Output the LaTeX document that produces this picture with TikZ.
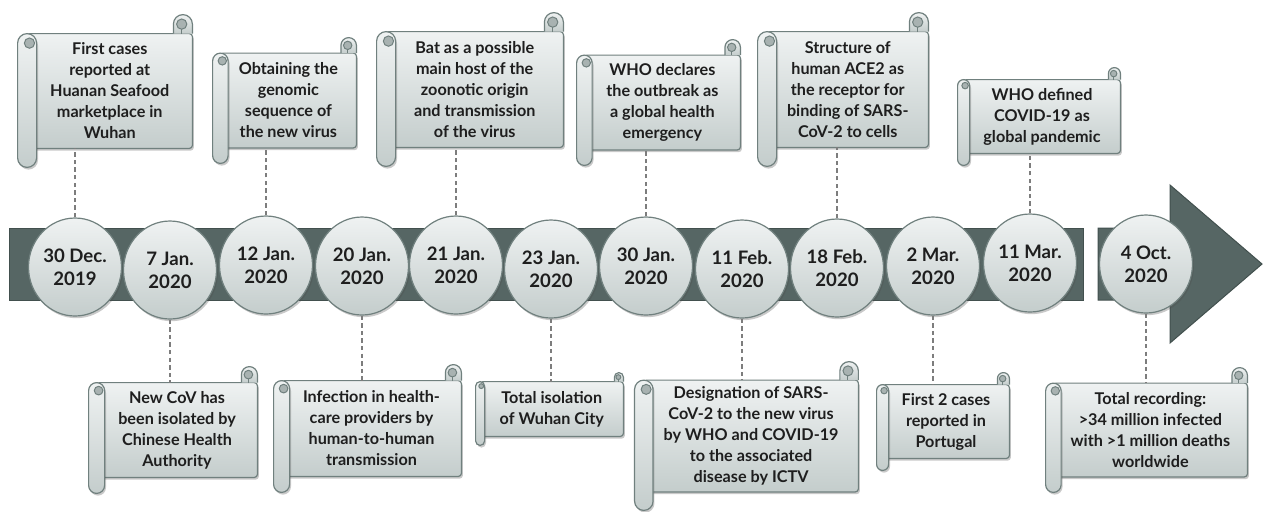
\documentclass[tikz,border=0pt]{standalone}
\usepackage{fontspec}
\setmainfont{Lato}
\usepackage{tikz}
\usetikzlibrary{calc}
\usetikzlibrary{shapes.geometric}
\usetikzlibrary{shadows}
\usetikzlibrary{backgrounds}

\definecolor{bargray}{RGB}{86,102,100}
\definecolor{baredge}{RGB}{66,80,78}
\definecolor{paperlight}{RGB}{239,242,242}
\definecolor{paperdark}{RGB}{196,205,204}
\definecolor{rimgray}{RGB}{112,128,126}
\definecolor{curlgray}{RGB}{168,178,177}
\definecolor{linkgray}{RGB}{125,125,125}
\definecolor{inkblack}{RGB}{30,30,30}

\newcommand{\scrollfont}{\bfseries\fontsize{8.1}{10.5}\selectfont}
\newcommand{\datefont}{\bfseries\fontsize{9.3}{11.5}\selectfont}

% paper scroll around a text node: #1 node, #2 roll size
\newcommand{\scrollpaper}[2]{%
  \begin{scope}[on background layer]
    % sheet
    \draw[paper, papershadow, rounded corners=1.5pt]
      ($(#1.north west)+(-#2/2,0)$) -- ($(#1.north east)+(#2/2,0)$)
      -- ($(#1.south east)+(#2/2,0)$) -- ($(#1.south west)+(-#2/2,0)$) -- cycle;
    % right roll
    \draw[paper] ($(#1.north east)+(-#2/2,0)$) -- ++(0,#2/2)
      arc[start angle=180, end angle=0, radius=#2/2] -- ++(0,-#2/2);
    \draw[curl] ($(#1.north east)+(-#2/16,#2/2)$) circle[radius=0.27*#2];
    \draw[rim] ($(#1.north east)+(-#2/16,0.23*#2)$) -- ($(#1.north east)+(-#2/16,0)$);
    % left roll
    \draw[paper, papershadow] ($(#1.north west)+(-#2,-#2/2)$)
      arc[start angle=180, end angle=0, radius=#2/2]
      -- ($(#1.south west)+(0,-#2/2)$)
      arc[start angle=0, end angle=-180, radius=#2/2] -- cycle;
    \draw[curl] ($(#1.north west)+(-#2/2+#2/8,-#2/2)$) circle[radius=0.27*#2];
  \end{scope}}

\begin{document}
\begin{tikzpicture}[
    x=0.5pt, y=0.5pt,
    paper/.style={
        draw=rimgray,
        line width=0.6pt,
        top color=paperlight,
        bottom color=paperdark
    },
    papershadow/.style={
        drop shadow={shadow xshift=0.7pt, shadow yshift=-1.1pt, opacity=0.3, fill=black!70}
    },
    curl/.style={draw=rimgray, line width=0.5pt, fill=curlgray},
    rim/.style={draw=rimgray, line width=0.5pt},
    scroll/.style={
        inner sep=0pt,
        align=center,
        text=inkblack,
        font=\scrollfont
    },
    scrollbody/.style 2 args={minimum width=#1*0.5pt, minimum height=#2*0.5pt},
    date/.style={
        ellipse,
        paper,
        minimum width=46.5pt,
        minimum height=49pt,
        inner sep=0pt,
        align=center,
        text=inkblack,
        font=\datefont,
        papershadow
    },
    timeline/.style={fill=bargray, draw=baredge, line width=0.5pt},
    link/.style={draw=linkgray, line width=0.6pt, dash pattern=on 2.2pt off 1.6pt}
]

\useasboundingbox (0,0) rectangle (1263,-511);

% Timeline bar
\draw[timeline] (9,-228) rectangle (1083,-300);
\draw[timeline] (1098,-228) -- (1170,-228) -- (1170,-185) -- (1262,-264)
    -- (1170,-343) -- (1170,-300) -- (1098,-300) -- cycle;

% Dates
\node[date] (d30dec) at (75,-267) {30 Dec.\\2019};
\node[date] (d7jan) at (170,-270) {7 Jan.\\2020};
\node[date] (d12jan) at (266,-265) {12 Jan.\\2020};
\node[date] (d20jan) at (362,-266) {20 Jan.\\2020};
\node[date] (d21jan) at (456,-265) {21 Jan.\\2020};
\node[date] (d23jan) at (551,-269) {23 Jan.\\2020};
\node[date] (d30jan) at (646,-266) {30 Jan.\\2020};
\node[date] (d11feb) at (742,-269) {11 Feb.\\2020};
\node[date] (d18feb) at (837,-268) {18 Feb.\\2020};
\node[date] (d2mar) at (933,-266) {2 Mar.\\2020};
\node[date] (d11mar) at (1030,-263) {11 Mar.\\2020};
\node[date] (d4oct) at (1146,-264) {4 Oct.\\2020};

% Events above
\node[scroll, scrollbody={145.5}{114}] (firstcases) at (109.75,-91)
    {First cases\\reported at\\Huanan Seafood\\marketplace in\\Wuhan};
\node[scroll, scrollbody={119.75}{94}] (genome) at (288.4,-100.5)
    {Obtaining the\\genomic\\sequence of\\the new virus};
\node[scroll, scrollbody={157.5}{115}] (bathost) at (474.75,-89.5)
    {Bat as a possible\\main host of the\\zoonotic origin\\and transmission\\of the virus};
\node[scroll, scrollbody={139.75}{94}] (emergency) at (662.4,-102.5)
    {WHO declares\\the outbreak as\\a global health\\emergency};
\node[scroll, scrollbody={141.5}{115}] (ace2) at (847.75,-89.5)
    {Structure of\\human ACE2 as\\the receptor for\\binding of SARS-\\CoV-2 to cells};
\node[scroll, scrollbody={144}{73}] (pandemic) at (1042,-116.5)
    {WHO defined\\COVID-19 as\\global pandemic};

% Events below
\node[scroll, scrollbody={144}{94}] (isolated) at (177,-430)
    {New CoV has\\been isolated by\\Chinese Health\\Authority};
\node[scroll, scrollbody={163}{95}] (healthcare) at (371.5,-428.5)
    {Infection in health-\\care providers by\\human-to-human\\transmission};
\node[scroll, scrollbody={133.5}{54}] (wuhan) at (551.75,-409)
    {Total isolation\\of Wuhan City};
\node[scroll, scrollbody={195.25}{111}] (naming) at (751.1,-436)
    {Designation of SARS-\\CoV-2 to the new virus\\by WHO and COVID-19\\to the associated\\disease by ICTV};
\node[scroll, scrollbody={114}{73}] (portugal) at (946,-421.5)
    {First 2 cases\\reported in\\Portugal};
\node[scroll, scrollbody={177.75}{93}] (totals) at (1150.4,-430)
    {Total recording:\\>34 million infected\\with >1 million deaths\\worldwide};

% Scroll papers
\scrollpaper{firstcases}{19}
\scrollpaper{genome}{15.5}
\scrollpaper{bathost}{19}
\scrollpaper{emergency}{15.5}
\scrollpaper{ace2}{19}
\scrollpaper{pandemic}{12}
\scrollpaper{isolated}{16}
\scrollpaper{healthcare}{16}
\scrollpaper{wuhan}{9}
\scrollpaper{naming}{18.5}
\scrollpaper{portugal}{12}
\scrollpaper{totals}{15.5}

% Dashed links
\draw[link] (d30dec.north) -- (d30dec.north |- firstcases.south);
\draw[link] (d12jan.north) -- (d12jan.north |- genome.south);
\draw[link] (d21jan.north) -- (d21jan.north |- bathost.south);
\draw[link] (d30jan.north) -- (d30jan.north |- emergency.south);
\draw[link] (d18feb.north) -- (d18feb.north |- ace2.south);
\draw[link] (d11mar.north) -- (d11mar.north |- pandemic.south);
\draw[link] (d7jan.south) -- (d7jan.south |- isolated.north);
\draw[link] (d20jan.south) -- (d20jan.south |- healthcare.north);
\draw[link] (d23jan.south) -- (d23jan.south |- wuhan.north);
\draw[link] (d11feb.south) -- (d11feb.south |- naming.north);
\draw[link] (d2mar.south) -- (d2mar.south |- portugal.north);
\draw[link] (d4oct.south) -- (d4oct.south |- totals.north);

\end{tikzpicture}
\end{document}
